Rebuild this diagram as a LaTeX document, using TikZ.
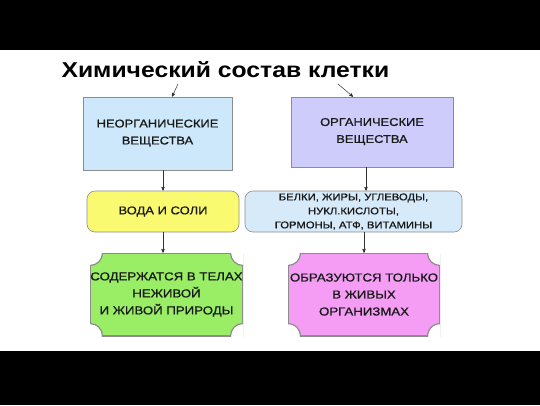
\documentclass[tikz,border=0pt]{standalone}
\usepackage{fontspec}
\setmainfont[FakeStretch=1.15]{Liberation Sans}
\newfontfamily\boxfont[FakeStretch=1.15, FakeBold=0.9]{Liberation Sans}
\usetikzlibrary{arrows,calc}
\definecolor{lineg}{RGB}{140,140,140}
\definecolor{txt}{RGB}{25,25,25}
\definecolor{inorgc}{RGB}{204,232,250}
\definecolor{orgc}{RGB}{206,204,250}
\definecolor{waterc}{RGB}{250,250,112}
\definecolor{listc}{RGB}{214,234,250}
\definecolor{greenc}{RGB}{153,238,102}
\definecolor{pinkc}{RGB}{245,157,245}

\begin{document}
\begin{tikzpicture}[x=1pt, y=-1pt, >=stealth',
  box/.style={rectangle, draw=lineg, line width=.6pt, align=center, text=txt, font=\boxfont\fontsize{11.2}{17}\selectfont},
  round box/.style={box, rounded corners=8pt, font=\boxfont\fontsize{9.8}{14}\selectfont},
  plaque/.style={rectangle, draw=none, fill=#1, inner sep=0pt, align=center, text=txt,
    minimum width=153pt, minimum height=83pt, font=\boxfont\fontsize{11.5}{17}\selectfont,
    path picture={
      \draw[lineg, line width=1.2pt] (path picture bounding box.south west) rectangle (path picture bounding box.north east);
      \foreach \c in {north west,north east,south west,south east}
        \draw[lineg, fill=white, line width=1.2pt] (path picture bounding box.\c) circle (12.5pt);
    }},
  link/.style={black!80, line width=.5pt}]
\useasboundingbox (0,0) rectangle (540,405);
\fill[white] (0,0) rectangle (540,405);
\fill[black] (0,0) rectangle (540,50);
\fill[black] (0,351) rectangle (540,405);

\node[anchor=base west, font=\fontsize{21.5}{26}\selectfont\bfseries] (title) at (58,77) {Химический состав клетки};
\node[box, fill=inorgc, minimum width=149pt, minimum height=73pt, text depth=3pt] (inorg) at (157.5,133.5) {НЕОРГАНИЧЕСКИЕ\\ВЕЩЕСТВА};
\node[box, fill=orgc, minimum width=162pt, minimum height=70pt, text depth=3pt] (org) at (372,132) {ОРГАНИЧЕСКИЕ\\ВЕЩЕСТВА};
\node[round box, fill=waterc, minimum width=152pt, minimum height=41pt, font=\boxfont\fontsize{11.3}{14}\selectfont] (water) at (163,211.5) {ВОДА И СОЛИ};
\node[round box, fill=listc, minimum width=217pt, minimum height=41pt, inner sep=1pt] (substances) at (353.5,211.5) {БЕЛКИ, ЖИРЫ, УГЛЕВОДЫ,\\НУКЛ.КИСЛОТЫ,\\ГОРМОНЫ, АТФ, ВИТАМИНЫ};
\node[plaque=greenc] (nonliving) at (166.5,294.5) {СОДЕРЖАТСЯ В ТЕЛАХ\\НЕЖИВОЙ\\ И ЖИВОЙ ПРИРОДЫ};
\node[plaque=pinkc, minimum width=152pt] (living) at (364,294.5) {ОБРАЗУЮТСЯ ТОЛЬКО\\В ЖИВЫХ\\ ОРГАНИЗМАХ};

\coordinate (tl) at (178,84);
\coordinate (tr) at (338,84);
\path[->, link]
(tl) edge ([xshift=14.5pt]inorg.north)
(tr) edge ([xshift=-19pt]org.north)
(inorg.south -| water.north) edge (water.north)
([xshift=-6pt]org.south) edge ([xshift=-6pt]org.south |- substances.north)
(water.south) edge (water.south |- nonliving.north)
(substances.south -| living.north) edge (living.north);
\end{tikzpicture}
\end{document}
